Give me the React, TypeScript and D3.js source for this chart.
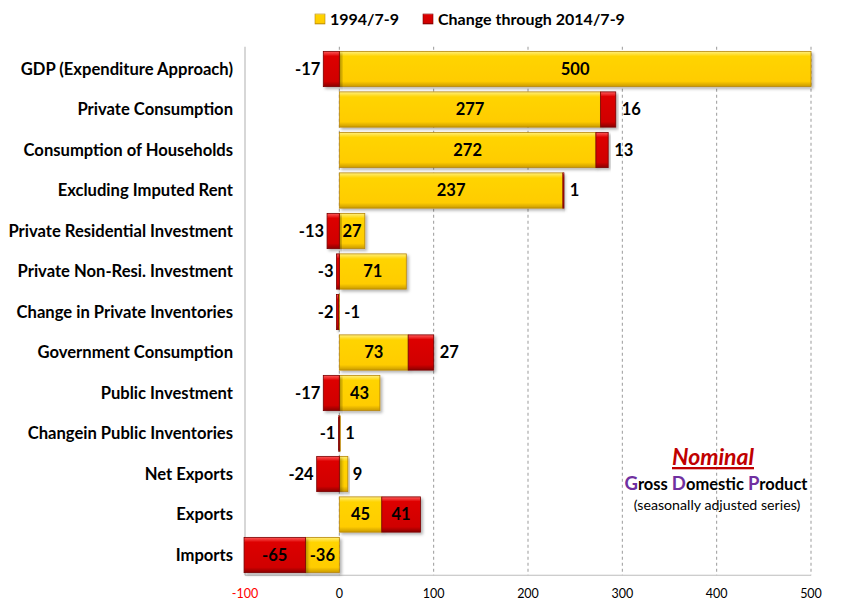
import React from "react";
import * as d3 from "d3";

const categories = [
  "GDP (Expenditure Approach)",
  "Private Consumption",
  "Consumption of Households",
  "Excluding Imputed Rent",
  "Private Residential Investment",
  "Private Non-Resi. Investment",
  "Change in Private Inventories",
  "Government Consumption",
  "Public Investment",
  "Changein Public Inventories",
  "Net Exports",
  "Exports",
  "Imports",
];
const base1994 = [500, 277, 272, 237, 27, 71, -1, 73, 43, 1, 9, 45, -36];
const change2014 = [-17, 16, 13, 1, -13, -3, -2, 27, -17, -1, -24, 41, -65];
const xTicks = [-100, 0, 100, 200, 300, 400, 500];
const seriesNames = ["1994/7-9", "Change through 2014/7-9"];

const W = 850;
const H = 612;
const left = 245;
const right = 811;
const top = 48.75;
const bottom = 575.25;
const FONT = "Lato, 'Open Sans', sans-serif";

export default function App() {
  const x = d3.scaleLinear().domain([-100, 500]).range([left, right]);
  const y = d3
    .scaleBand<string>()
    .domain(categories)
    .range([top, bottom])
    .paddingInner(0.13)
    .paddingOuter(0.065);

  const rows = categories.map((c, i) => {
    const b = base1994[i];
    const r = change2014[i];
    let posTop = 0;
    let negBot = 0;
    let yb: [number, number];
    if (b >= 0) {
      yb = [0, b];
      posTop = b;
    } else {
      yb = [b, 0];
      negBot = b;
    }
    const rb: [number, number] = r >= 0 ? [posTop, posTop + r] : [negBot + r, negBot];
    return { c, b, r, yb, rb, posTop, negBot };
  });

  const bh = y.bandwidth();

  const barRect = (key: string, seg: [number, number], cy: number, fill: string, stroke: string) => {
    const x0 = x(seg[0]);
    const x1 = x(seg[1]);
    const w = Math.max(x1 - x0, 1);
    return (
      <rect
        key={key}
        x={x0}
        y={cy}
        width={w}
        height={bh}
        fill={fill}
        stroke={stroke}
        strokeWidth={0.8}
        filter="url(#shadow)"
      />
    );
  };

  return (
    <svg width={W} height={H} style={{ display: "block", position: "absolute", left: 0, top: 0 }}>
      <defs>
        <linearGradient id="gy" x1="0" y1="0" x2="0" y2="1">
          <stop offset="0" stopColor="#FFF080" />
          <stop offset="0.14" stopColor="#FFD400" />
          <stop offset="0.85" stopColor="#FFCC00" />
          <stop offset="1" stopColor="#C99A00" />
        </linearGradient>
        <linearGradient id="gr" x1="0" y1="0" x2="0" y2="1">
          <stop offset="0" stopColor="#FF5A5A" />
          <stop offset="0.14" stopColor="#DD0000" />
          <stop offset="0.85" stopColor="#D00000" />
          <stop offset="1" stopColor="#8A0000" />
        </linearGradient>
        <filter id="shadow" x="-10%" y="-10%" width="130%" height="140%">
          <feDropShadow dx="2" dy="2" stdDeviation="1.5" floodColor="#000" floodOpacity="0.3" />
        </filter>
      </defs>
      <rect x={0} y={0} width={W} height={H} fill="#fff" />

      {/* gridlines */}
      {xTicks
        .filter((t) => t !== -100)
        .map((t) => (
          <line
            key={"g" + t}
            x1={x(t)}
            x2={x(t)}
            y1={top - 2}
            y2={bottom}
            stroke="#9a9a9a"
            strokeWidth={1}
            strokeDasharray="3,3"
          />
        ))}
      {/* axes */}
      <line x1={left} x2={left} y1={top - 2} y2={bottom} stroke="#bdbdbd" strokeWidth={1.2} />
      <line x1={left} x2={right} y1={bottom} y2={bottom} stroke="#bdbdbd" strokeWidth={1.2} />

      {/* tick labels */}
      {xTicks.map((t) => (
        <text
          key={"t" + t}
          x={x(t)}
          y={598}
          textAnchor="middle"
          fontFamily={FONT}
          fontSize={12.5}
          fill={t < 0 ? "#FF0000" : "#000"}
        >
          {t}
        </text>
      ))}

      {/* category labels */}
      {categories.map((c) => (
        <text
          key={"c" + c}
          x={233}
          y={(y(c) as number) + bh / 2}
          dy="0.35em"
          textAnchor="end"
          fontFamily={FONT}
          fontWeight="bold"
          fontSize={16.6}
          fill="#000"
        >
          {c}
        </text>
      ))}

      {/* bars */}
      {rows.map((d, i) => {
        const cy = y(d.c) as number;
        return (
          <g key={"b" + i}>
            {barRect("y" + i, d.yb, cy, "url(#gy)", "#B8860B")}
            {barRect("r" + i, d.rb, cy, "url(#gr)", "#7A0000")}
          </g>
        );
      })}

      {/* value labels */}
      {rows.map((d, i) => {
        const cy = (y(d.c) as number) + bh / 2;
        const yw = Math.abs(x(d.yb[1]) - x(d.yb[0]));
        const rw = Math.abs(x(d.rb[1]) - x(d.rb[0]));
        let yx: number;
        let ya: "middle" | "start" | "end";
        if (yw > 20) {
          yx = (x(d.yb[0]) + x(d.yb[1])) / 2;
          ya = "middle";
        } else {
          yx = Math.max(x(d.yb[1]), x(0)) + 5;
          ya = "start";
        }
        let rx: number;
        let ra: "middle" | "start" | "end";
        if (rw > 35) {
          rx = (x(d.rb[0]) + x(d.rb[1])) / 2;
          ra = "middle";
        } else if (d.r >= 0) {
          rx = x(d.rb[1]) + 6;
          ra = "start";
        } else {
          rx = x(d.rb[0]) - 3;
          ra = "end";
        }
        return (
          <g key={"l" + i} fontFamily={FONT} fontWeight="bold" fontSize={16.5} fill="#000">
            <text x={yx} y={cy} dy="0.36em" textAnchor={ya}>
              {d.b}
            </text>
            <text x={rx} y={cy} dy="0.36em" textAnchor={ra}>
              {d.r}
            </text>
          </g>
        );
      })}

      {/* legend */}
      <g fontFamily={FONT} fontWeight="bold" fontSize={16} fill="#000">
        <rect x={315} y={14} width={10} height={10} fill="url(#gy)" stroke="#B8860B" strokeWidth={0.6} />
        <text x={330} y={19} dy="0.36em">
          {seriesNames[0]}
        </text>
        <rect x={423} y={14} width={10} height={10} fill="url(#gr)" stroke="#7A0000" strokeWidth={0.6} />
        <text x={438} y={19} dy="0.36em">
          {seriesNames[1]}
        </text>
      </g>

      {/* annotation */}
      <text
        x={713}
        y={465}
        textAnchor="middle"
        fontFamily={FONT}
        fontWeight="bold"
        fontStyle="italic"
        fontSize={23}
        fill="#C00000"
        textDecoration="underline"
      >
        Nominal
      </text>
      <text x={716} y={490} textAnchor="middle" fontFamily={FONT} fontWeight="bold" fontSize={16.5} fill="#000">
        <tspan fill="#7030A0" fontSize={18.5}>G</tspan>
        <tspan>ross </tspan>
        <tspan fill="#7030A0" fontSize={18.5}>D</tspan>
        <tspan>omestic </tspan>
        <tspan fill="#7030A0" fontSize={18.5}>P</tspan>
        <tspan>roduct</tspan>
      </text>
      <text x={717} y={510} textAnchor="middle" fontFamily={FONT} fontSize={14.2} fill="#000">
        (seasonally adjusted series)
      </text>
    </svg>
  );
}
